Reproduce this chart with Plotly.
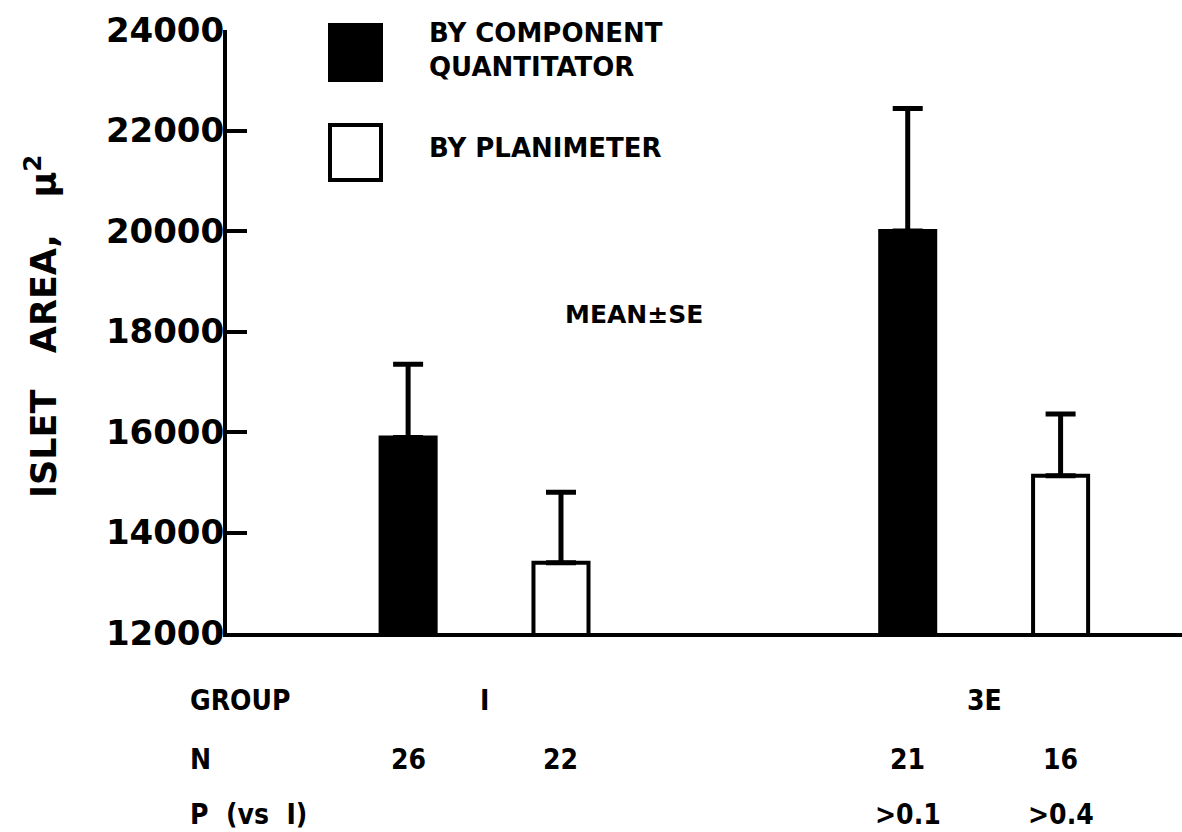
import plotly.graph_objects as go

# Islet area measured two ways, groups I and 3E (mean and SE, in square microns)
groups = ["I", "3E"]
quantitator_mean = [15890, 20000]
quantitator_se = [1460, 2440]
planimeter_mean = [13400, 15130]
planimeter_se = [1400, 1230]
n_quantitator = ["26", "21"]
n_planimeter = ["22", "16"]
p_quantitator = ["", ">0.1"]
p_planimeter = ["", ">0.4"]
y_ticks = [12000, 14000, 16000, 18000, 20000, 22000, 24000]

W, H = 1182, 832
ML, MR, MT, MB = 227, 0, 30, 199
PW, PH = W - ML - MR, H - MT - MB

FONT = "DejaVu Sans"
BOLD = dict(family=FONT, color="black", weight="bold")


def px(x):
    """Horizontal page pixel -> paper fraction."""
    return (x - ML) / PW


def py(y):
    """Vertical page pixel -> paper fraction."""
    return (H - MB - y) / PH


OFF = 0.153  # half spacing between the two bars of a group (category units)

fig = go.Figure()
fig.add_trace(go.Bar(
    x=groups, y=quantitator_mean, name="BY COMPONENT QUANTITATOR",
    marker=dict(color="black", line=dict(color="black", width=4)),
    error_y=dict(type="data", array=quantitator_se, arrayminus=[0] * len(groups),
                 symmetric=False, color="black", thickness=5, width=15),
))
fig.add_trace(go.Bar(
    x=groups, y=planimeter_mean, name="BY PLANIMETER",
    marker=dict(color="white", line=dict(color="black", width=4)),
    error_y=dict(type="data", array=planimeter_se, arrayminus=[0] * len(groups),
                 symmetric=False, color="black", thickness=5, width=15),
))

fig.update_layout(
    width=W, height=H,
    margin=dict(l=ML, r=MR, t=MT, b=MB, pad=0),
    paper_bgcolor="white", plot_bgcolor="white",
    barmode="group", bargap=0.388, bargroupgap=0.64,
    showlegend=False,
    font=dict(family=FONT, color="black"),
)
fig.update_xaxes(
    type="category", range=[-0.5155, 1.396],
    showline=True, linecolor="black", linewidth=4,
    showticklabels=False, ticks="", showgrid=False, zeroline=False,
)
fig.update_yaxes(
    range=[12000, 24000], tickvals=y_ticks, tickformat="d",
    showline=True, linecolor="black", linewidth=4,
    ticks="inside", ticklen=20, tickwidth=4, tickcolor="black",
    tickfont=dict(size=34, **BOLD), ticklabelstandoff=-8,
    showgrid=False, zeroline=False,
)

ann = []
# axis title
ann.append(dict(x=px(41), y=py(327), xref="paper", yref="paper",
                text="ISLET   AREA,   μ<sup>2</sup>", textangle=-90, showarrow=False,
                font=dict(size=35, **BOLD), xanchor="center", yanchor="middle"))

# legend keys and labels
legend_keys = [
    dict(fill="black", y0=25, y1=80),
    dict(fill="white", y0=125, y1=180),
]
shapes = []
for k in legend_keys:
    shapes.append(dict(type="rect", xref="paper", yref="paper",
                       x0=px(330), x1=px(381), y0=py(k["y1"]), y1=py(k["y0"]),
                       fillcolor=k["fill"], line=dict(color="black", width=4)))
for text, y in [("BY COMPONENT<br>QUANTITATOR", 50), ("BY PLANIMETER", 148)]:
    ann.append(dict(x=px(427), y=py(y), xref="paper", yref="paper", text=text,
                    showarrow=False, xanchor="left", yanchor="middle", align="left",
                    font=dict(size=26, **BOLD)))
ann.append(dict(x=px(563), y=py(314), xref="paper", yref="paper", text="MEAN±SE",
                showarrow=False, xanchor="left", yanchor="middle",
                font=dict(size=25, **BOLD)))

# table below the axis
ROW_FONT = dict(size=28, family="DejaVu Sans Condensed", color="black", weight="bold")
rows = [("GROUP", 700), ("N", 759), ("P  (vs  I)", 814)]
for label, y in rows:
    ann.append(dict(x=px(188), y=py(y), xref="paper", yref="paper", text=label,
                    showarrow=False, xanchor="left", yanchor="middle", font=ROW_FONT))
group_y, n_y, p_y = (r[1] for r in rows)
for i, g in enumerate(groups):
    ann.append(dict(x=i, y=py(group_y), xref="x", yref="paper", text=g,
                    showarrow=False, xanchor="center", yanchor="middle", font=ROW_FONT))
    for dx, n_txt, p_txt in [(-OFF, n_quantitator[i], p_quantitator[i]),
                             (OFF, n_planimeter[i], p_planimeter[i])]:
        ann.append(dict(x=i + dx, y=py(n_y), xref="x", yref="paper", text=n_txt,
                        showarrow=False, xanchor="center", yanchor="middle", font=ROW_FONT))
        if p_txt:
            ann.append(dict(x=i + dx, y=py(p_y), xref="x", yref="paper", text=p_txt,
                            showarrow=False, xanchor="center", yanchor="middle",
                            font=ROW_FONT))

fig.update_layout(annotations=ann, shapes=shapes)
fig.write_html("out.html")
